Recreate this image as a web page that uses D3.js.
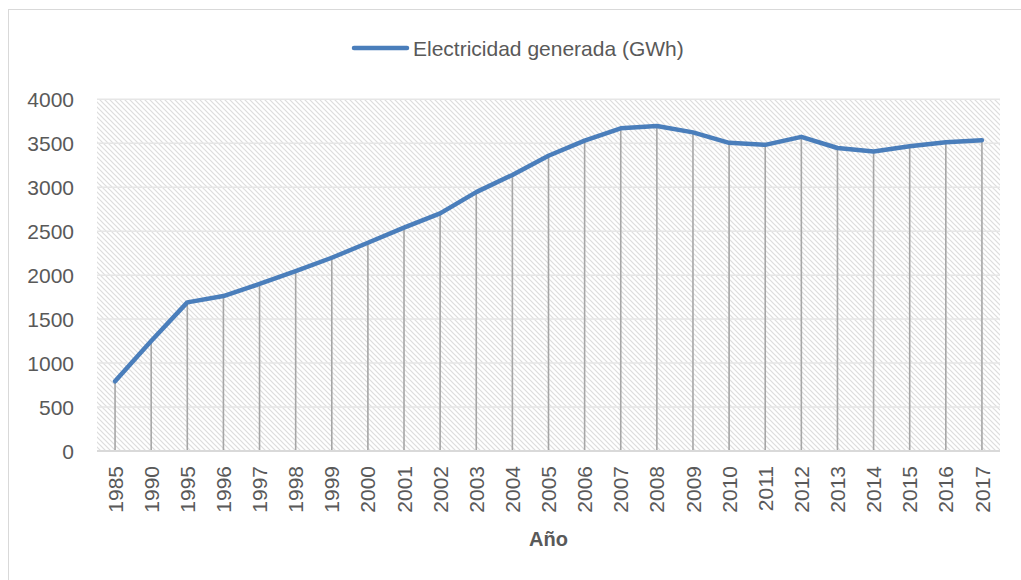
<!DOCTYPE html>
<html>
<head>
<meta charset="utf-8">
<script src="https://cdn.jsdelivr.net/npm/d3@7"></script>
<style>
  html, body { margin: 0; padding: 0; background: #fff; }
  svg { display: block; }
  text { font-family: "Liberation Sans", Arial, sans-serif; fill: #595959; }
</style>
</head>
<body>
<svg id="chart" width="1021" height="580"></svg>
<script>
const years = ["1985","1990","1995","1996","1997","1998","1999","2000","2001","2002","2003","2004","2005","2006","2007","2008","2009","2010","2011","2012","2013","2014","2015","2016","2017"];
const electricity = [793, 1252, 1690, 1762, 1900, 2045, 2198, 2369, 2540, 2703, 2944, 3140, 3358, 3530, 3670, 3697, 3624, 3505, 3482, 3573, 3446, 3407, 3466, 3512, 3535];
const yTicks = [0, 500, 1000, 1500, 2000, 2500, 3000, 3500, 4000];
const seriesName = "Electricidad generada (GWh)";
const xTitle = "Año";

const svg = d3.select("#chart");
const pLeft = 97, pRight = 1000, pTop = 99.3, pBottom = 451;

// outer border
svg.append("rect").attr("x", 8.5).attr("y", 9.5).attr("width", 1040).attr("height", 600)
  .attr("fill", "#fff").attr("stroke", "#d9d9d9").attr("stroke-width", 1);

// hatch pattern
const defs = svg.append("defs");
const pat = defs.append("pattern").attr("id", "hatch").attr("patternUnits", "userSpaceOnUse")
  .attr("width", 5).attr("height", 5);
pat.append("rect").attr("width", 5).attr("height", 5).attr("fill", "#fff");
pat.append("path").attr("d", "M-1,-1 L6,6 M-1,4 L1,6 M4,-1 L6,1")
  .attr("stroke", "#dddddd").attr("stroke-width", 1.2);

const x = d3.scaleBand().domain(years).range([pLeft, pRight]).padding(0);
const y = d3.scaleLinear().domain([0, 4000]).range([pBottom, pTop]);
const cx = d => x(d) + x.bandwidth() / 2;

svg.append("rect").attr("x", pLeft).attr("y", pTop).attr("width", pRight - pLeft).attr("height", pBottom - pTop)
  .attr("fill", "url(#hatch)");

// gridlines
svg.append("g").selectAll("line").data(yTicks.filter(t => t > 0)).join("line")
  .attr("x1", pLeft).attr("x2", pRight)
  .attr("y1", d => y(d)).attr("y2", d => y(d))
  .attr("stroke", "#e6e6e6").attr("stroke-width", 1.5);

// y labels
svg.append("g").selectAll("text").data(yTicks).join("text")
  .attr("x", 74).attr("y", d => y(d)).attr("dy", "0.36em")
  .attr("text-anchor", "end").attr("font-size", 21)
  .text(d => d);

// drop lines
svg.append("g").selectAll("line").data(years).join("line")
  .attr("x1", d => cx(d)).attr("x2", d => cx(d))
  .attr("y1", (d, i) => y(electricity[i])).attr("y2", pBottom)
  .attr("stroke", "#a6a6a6").attr("stroke-width", 1.6);

// x axis line
svg.append("line").attr("x1", pLeft).attr("x2", pRight).attr("y1", pBottom).attr("y2", pBottom)
  .attr("stroke", "#d9d9d9").attr("stroke-width", 2);

// x labels
svg.append("g").selectAll("text").data(years).join("text")
  .attr("transform", d => `translate(${cx(d)},466) rotate(-90)`)
  .attr("text-anchor", "end").attr("dy", "0.36em").attr("font-size", 21)
  .text(d => d);

// line
const line = d3.line().x((d, i) => cx(years[i])).y(d => y(d));
svg.append("path").datum(electricity).attr("d", line)
  .attr("fill", "none").attr("stroke", "#4a7ebb").attr("stroke-width", 4.5)
  .attr("stroke-linejoin", "round").attr("stroke-linecap", "round");

// x title
svg.append("text").attr("x", (pLeft + pRight) / 2).attr("y", 546).attr("text-anchor", "middle")
  .attr("font-size", 20).attr("font-weight", "bold").text(xTitle);

// legend
svg.append("line").attr("x1", 354).attr("x2", 407).attr("y1", 48).attr("y2", 48)
  .attr("stroke", "#4a7ebb").attr("stroke-width", 4.5).attr("stroke-linecap", "round");
svg.append("text").attr("x", 413).attr("y", 55.5).attr("font-size", 21).text(seriesName);
</script>
</body>
</html>
